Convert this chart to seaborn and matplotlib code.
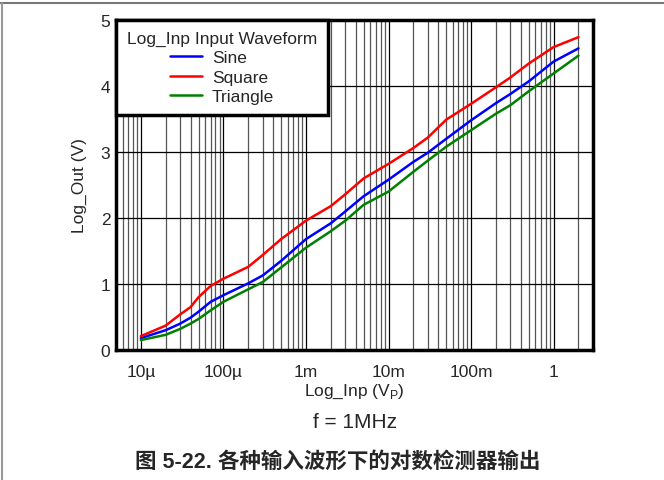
import numpy as np
import pandas as pd
import matplotlib
matplotlib.use("Agg")
import matplotlib.pyplot as plt
from matplotlib.lines import Line2D
import seaborn as sns

# input amplitude (V peak)
log_inp = [10e-6, 20e-6, 30e-6, 40e-6, 50e-6, 70e-6, 100e-6, 200e-6, 300e-6, 500e-6,
           1e-3, 2e-3, 3e-3, 5e-3, 10e-3, 20e-3, 30e-3, 50e-3,
           100e-3, 200e-3, 300e-3, 500e-3, 1.0, 2.0]

sine = [0.18, 0.30, 0.40, 0.49, 0.58, 0.73, 0.83, 1.01, 1.13, 1.35,
        1.68, 1.92, 2.10, 2.33, 2.58, 2.85, 2.99, 3.20,
        3.48, 3.74, 3.88, 4.07, 4.37, 4.57]
square = [0.21, 0.37, 0.54, 0.65, 0.80, 0.97, 1.08, 1.26, 1.44, 1.68,
          1.96, 2.18, 2.36, 2.60, 2.82, 3.06, 3.22, 3.49,
          3.73, 3.98, 4.13, 4.34, 4.59, 4.74]
triangle = [0.15, 0.23, 0.32, 0.40, 0.47, 0.60, 0.73, 0.92, 1.03, 1.25,
            1.55, 1.80, 1.96, 2.20, 2.40, 2.70, 2.87, 3.08,
            3.33, 3.58, 3.71, 3.92, 4.19, 4.46]

waveforms = ["Sine", "Square", "Triangle"]
colors = ["#0000ff", "#ff0000", "#008000"]

xtick_vals = [1e-5, 1e-4, 1e-3, 1e-2, 1e-1, 1]
xtick_labels = ["10µ", "100µ", "1m", "10m", "100m", "1"]
ytick_vals = [0, 1, 2, 3, 4, 5]

n = len(log_inp)
df = pd.DataFrame({
    "Log_Inp": log_inp * 3,
    "Log_Out": sine + square + triangle,
    "Waveform": ["Sine"] * n + ["Square"] * n + ["Triangle"] * n,
})

sns.set_style("white")
plt.rcParams["font.family"] = ["Liberation Sans", "Noto Sans CJK SC", "DejaVu Sans"]
plt.rcParams["mathtext.fontset"] = "custom"
plt.rcParams["mathtext.rm"] = "Liberation Sans"

fig = plt.figure(figsize=(6.64, 4.81), dpi=100)
ax = fig.add_axes([116 / 664, 1 - 351 / 481, (593 - 116) / 664, (351 - 21) / 481])

sns.lineplot(data=df, x="Log_Inp", y="Log_Out", hue="Waveform", hue_order=waveforms,
             palette=colors, linewidth=1.8, ax=ax, zorder=3)

ax.set_xscale("log")
ax.set_xlim(5e-6, 3)
ax.set_ylim(0, 5)

ax.set_xticks(xtick_vals)
ax.set_xticklabels(xtick_labels)
ax.set_yticks(ytick_vals)
ax.xaxis.set_minor_locator(matplotlib.ticker.LogLocator(base=10, subs=np.arange(2, 10), numticks=20))
ax.xaxis.set_minor_formatter(matplotlib.ticker.NullFormatter())
ax.tick_params(axis="both", which="both", length=0, labelsize=12.5)
ax.tick_params(axis="x", pad=10)
ax.tick_params(axis="y", pad=4)

ax.grid(True, which="major", axis="both", color="black", linewidth=0.9)
ax.grid(True, which="minor", axis="x", color="#555555", linewidth=0.9)
ax.set_axisbelow(True)

for s in ax.spines.values():
    s.set_linewidth(2.5)
    s.set_color("black")

ax.set_xlabel("Log_Inp (V$_\\mathregular{P}$)", fontsize=12.5, labelpad=2)
ax.set_ylabel("Log_Out (V)", fontsize=12.5, labelpad=10)

leg = ax.legend(title="Log_Inp Input Waveform", loc="upper left", borderaxespad=0,
                fontsize=12.5, title_fontsize=12.5, fancybox=False, framealpha=1,
                edgecolor="black", handlelength=1.85, handletextpad=0.57,
                labelspacing=0.25, borderpad=0.62)
leg.get_frame().set_linewidth(2.5)
leg.set_zorder(5)

fig.text(355 / 664, 1 - 423 / 481, "f = 1MHz", fontsize=15, ha="center", va="center")
fig.text(338 / 664, 1 - 462 / 481, "图 5-22. 各种输入波形下的对数检测器输出",
         fontsize=15.5, fontweight="bold", ha="center", va="center")

# page border lines of the source document
fig.add_artist(Line2D([0, 1], [1 - 4 / 481, 1 - 4 / 481], color="#777777", linewidth=1.5))
fig.add_artist(Line2D([1.5 / 664, 1.5 / 664], [0, 1 - 4 / 481], color="#999999", linewidth=1.5))

fig.savefig("out.png", dpi=100)
